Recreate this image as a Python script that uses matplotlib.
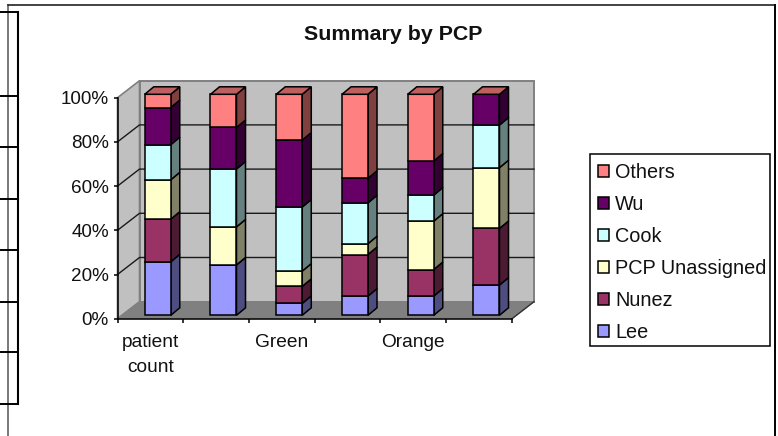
import matplotlib
matplotlib.use("Agg")
import matplotlib.pyplot as plt
from matplotlib.colors import to_rgb
from matplotlib.patches import Polygon, Rectangle

plt.rcParams['font.family'] = ['Liberation Sans', 'DejaVu Sans']

# ---- data (percent of each column) ----
categories = ["patient\ncount", "", "Green", "", "Orange", ""]
lee = [24.2, 22.8, 5.4, 8.7, 8.7, 13.7]
nunez = [19.3, 0.0, 7.7, 18.8, 12.0, 25.6]
unassigned = [17.8, 17.2, 6.9, 4.9, 21.9, 27.5]
cook = [15.9, 26.2, 29.0, 18.5, 11.8, 19.3]
wu = [16.8, 18.8, 30.3, 11.1, 15.4, 13.9]
others = [6.0, 15.0, 20.7, 38.0, 30.2, 0.0]
series_names = ["Lee", "Nunez", "PCP Unassigned", "Cook", "Wu", "Others"]
series_values = [lee, nunez, unassigned, cook, wu, others]
series_colors = ["#9999FF", "#993366", "#FFFFCC", "#CCFFFF", "#660066", "#FF8080"]
y_ticks = [0, 20, 40, 60, 80, 100]

W, H = 778, 436
fig = plt.figure(figsize=(W / 100, H / 100), dpi=100, facecolor="white")

# page furniture in pixel coordinates
bg = fig.add_axes([0, 0, 1, 1], zorder=0)
bg.set_xlim(0, W); bg.set_ylim(H, 0); bg.axis("off")
bg.plot([8.5, 8.5], [5, H], color="#555555", lw=1.1)
bg.plot([8.5, 775.5], [5, 5], color="#222222", lw=1.2)
bg.plot([775.5, 775.5], [5, H], color="black", lw=1.4)
bg.plot([18, 18], [12, 404], color="black", lw=1.5)
for yy in [12, 96, 147, 199, 250, 302, 352, 404]:
    bg.plot([0, 18], [yy, yy], color="black", lw=1.4)
bg.add_patch(Rectangle((590, 153.5), 180, 192, facecolor="white", edgecolor="black", lw=1.1))

# plot axes: the front plane of the 3-D box
L, R, T, B = 117.5, 512, 97.7, 318.7
ax = fig.add_axes([L / W, 1 - B / H, (R - L) / W, (B - T) / H], zorder=1)
ax.patch.set_alpha(0)
n = len(categories)
ax.set_xlim(0, n); ax.set_ylim(0, 100)
px_x = (R - L) / n
px_y = (B - T) / 100
DX, DY = 22 / px_x, 17 / px_y   # full box depth in data units


def proj(x, y, d):
    return (x + d * DX, y + d * DY)


def face(points, **kw):
    ax.add_patch(Polygon(points, closed=True, clip_on=False, **kw))


wall = "#C0C0C0"
edge = "#808080"
face([proj(0, 0, 0), proj(0, 100, 0), proj(0, 100, 1), proj(0, 0, 1)],
     facecolor=wall, edgecolor=edge, lw=1.2, zorder=1)
face([proj(0, 0, 1), proj(0, 100, 1), proj(n, 100, 1), proj(n, 0, 1)],
     facecolor=wall, edgecolor=edge, lw=1.4, zorder=1)
face([proj(0, 0, 0), proj(n, 0, 0), proj(n, 0, 1), proj(0, 0, 1)],
     facecolor=edge, edgecolor=edge, lw=0.8, zorder=1)
for v in y_ticks[1:-1]:
    a, b, c = proj(0, v, 0), proj(0, v, 1), proj(n, v, 1)
    ax.plot([a[0], b[0], c[0]], [a[1], b[1], c[1]], color="#1a1a1a", lw=1.0,
            zorder=2, clip_on=False)
a, b = proj(n, 0, 0), proj(n, 0, 1)
ax.plot([a[0], b[0]], [a[1], b[1]], color="#333333", lw=1.0, zorder=2, clip_on=False)

# stacked 3-D columns
D0, D1 = 0.335, 0.745
BW = 26 / px_x
base = 3.4 / px_y
ddx, ddy = (D1 - D0) * DX, 7.5 / px_y
z = 3
handles = {}
for i in range(n):
    x0 = i + 0.5 - BW / 2 + D0 * DX
    x1 = x0 + BW
    y = 0.0
    for name, vals, col in zip(series_names, series_values, series_colors):
        v = vals[i]
        bot = y + base
        top = bot + v
        rgb = to_rgb(col)
        side = tuple(c * 0.5 for c in rgb)
        face([(x1, bot), (x1, top), (x1 + ddx, top + ddy), (x1 + ddx, bot + ddy)],
             facecolor=side, edgecolor="black", lw=1.1, zorder=z)
        bars = ax.bar(x0, v, BW, bottom=bot, align="edge", color=col, edgecolor="black",
                      linewidth=1.1, zorder=z + 1, clip_on=False, label=name)
        handles[name] = bars
        y += v
        z += 2
    rgb = to_rgb(series_colors[-1])
    topc = tuple(c * 0.75 for c in rgb)
    top = y + base
    face([(x0, top), (x1, top), (x1 + ddx, top + ddy), (x0 + ddx, top + ddy)],
         facecolor=topc, edgecolor="black", lw=1.1, zorder=z)
    z += 1

# axes furniture
for s in ["top", "right"]:
    ax.spines[s].set_visible(False)
for s in ["left", "bottom"]:
    ax.spines[s].set_linewidth(1.1)
    ax.spines[s].set_zorder(2.5)
ax.set_yticks(y_ticks, [f"{v}%" for v in y_ticks])
ax.tick_params(axis="y", length=3.2, width=1.1, pad=3, labelsize=13.6, labelcolor="#111111")
ax.set_xticks(range(n + 1), [""] * (n + 1))
ax.tick_params(axis="x", which="major", length=3.2, width=1.1)
ax.set_xticks([i + 0.5 for i in range(n)], categories, minor=True, linespacing=1.6)
ax.tick_params(axis="x", which="minor", length=0, pad=11, labelsize=13.8, labelcolor="#111111")

fig.text(393 / W, 1 - 34.5 / H, "Summary by PCP", ha="center", va="center",
         fontsize=15.4, fontweight="bold", color="#111111")

leg = fig.legend([handles[nm] for nm in series_names[::-1]], series_names[::-1],
                 loc="upper left", bbox_to_anchor=(598 / W, 1 - 162.8 / H),
                 bbox_transform=fig.transFigure, borderaxespad=0, borderpad=0, fontsize=14.3,
                 frameon=False, labelspacing=0.655, handlelength=0.56, handleheight=0.56,
                 handletextpad=0.3)
leg.set_zorder(5)
for t in leg.get_texts():
    t.set_color("#111111")

fig.savefig("out.png", dpi=100)
